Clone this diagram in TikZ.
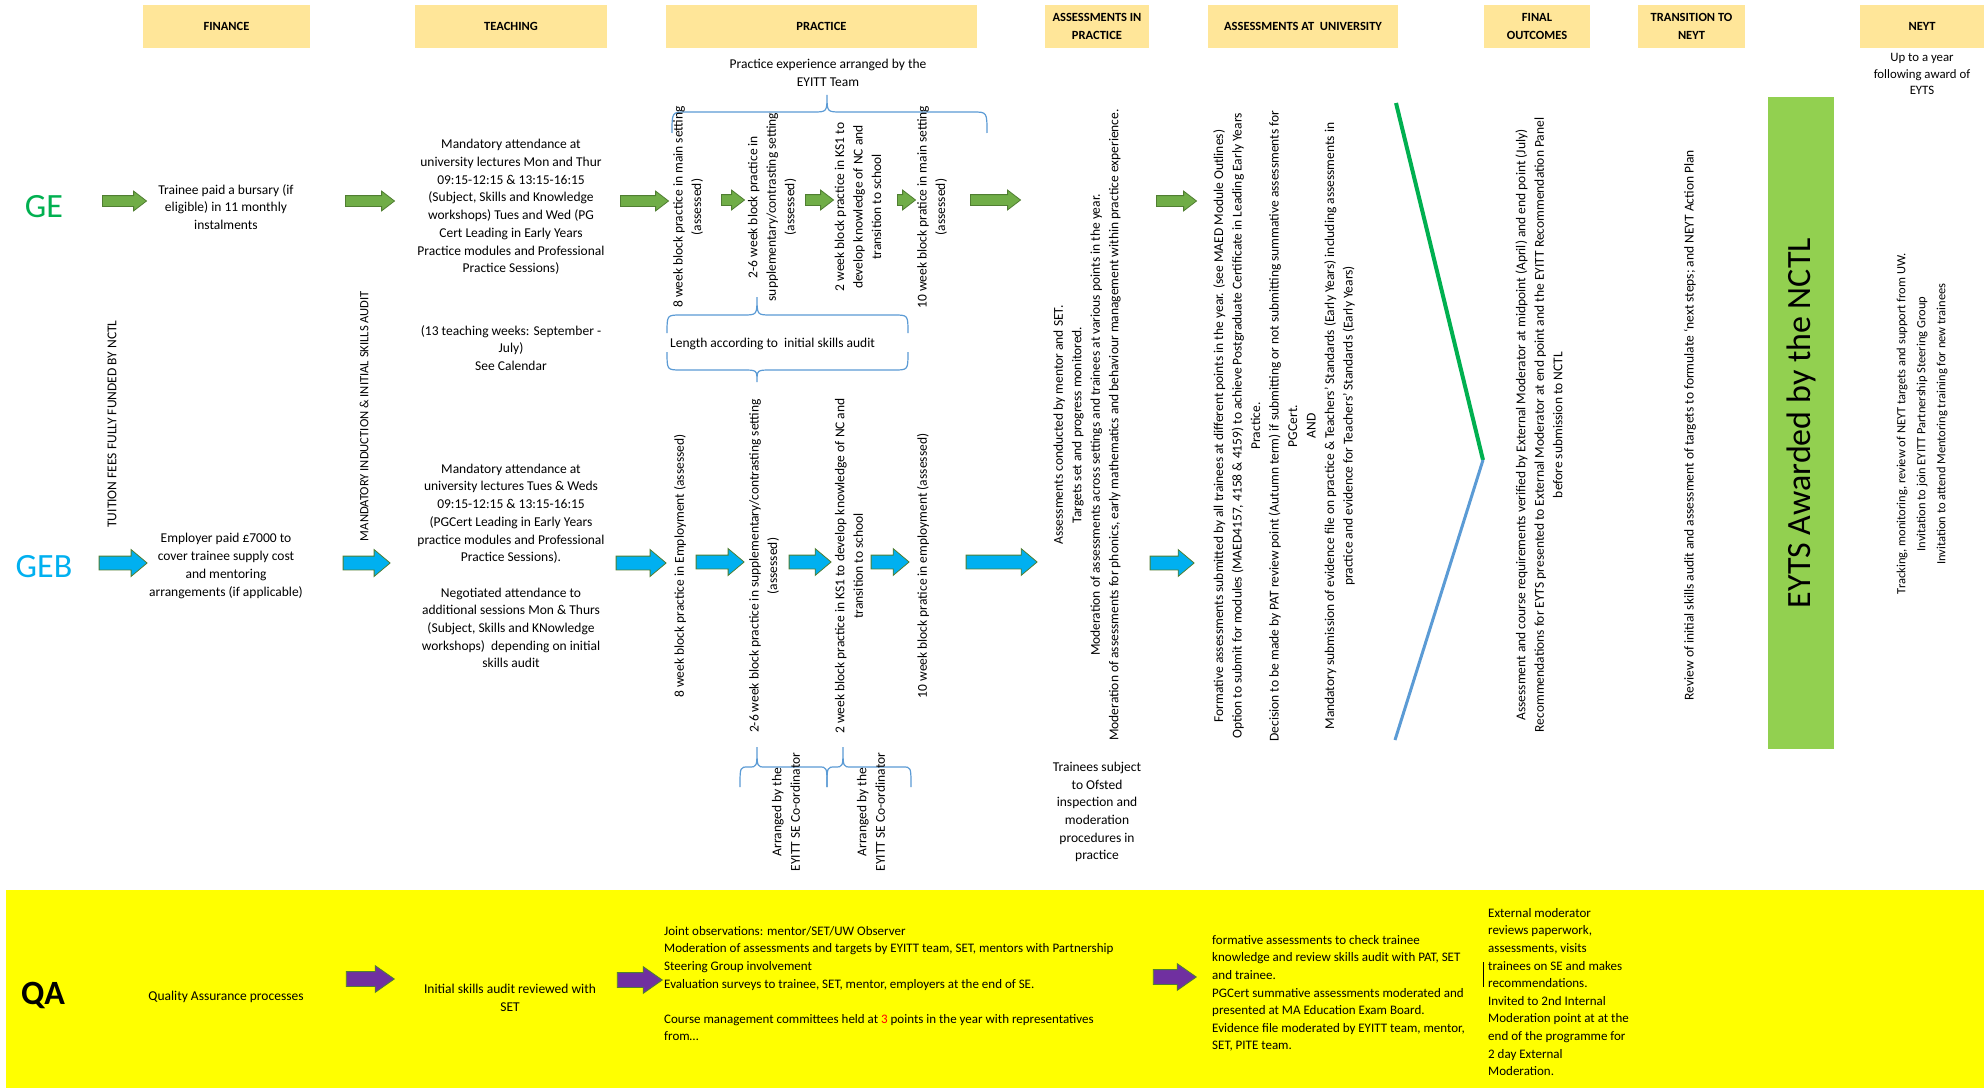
\documentclass[tikz,border=0pt]{standalone}
\usepackage{fontspec}
\setmainfont{Carlito}
\usetikzlibrary{shapes.arrows}

\definecolor{hdrfill}{HTML}{FFE699}
\definecolor{eytsgreen}{HTML}{92D050}
\definecolor{gecol}{HTML}{00B050}
\definecolor{gebcol}{HTML}{00B0F0}
\definecolor{qayellow}{HTML}{FFFF00}
\definecolor{arrgreen}{HTML}{70AD47}
\definecolor{arrblue}{HTML}{00B0F0}
\definecolor{arrpurple}{HTML}{7030A0}
\definecolor{arrowedge}{HTML}{507E32}
\definecolor{bracecol}{HTML}{5B9BD5}

% word style brace: x1, x2, tip x, end y, line y, tip y, corner
\newcommand{\wordbrace}[7]{%
  \draw[bracket] (#1,#4) .. controls (#1,#5) .. ({#1+#7},#5) -- ({#3-#7},#5)
    .. controls (#3,#5) .. (#3,#6) .. controls (#3,#5) .. ({#3+#7},#5)
    -- ({#2-#7},#5) .. controls (#2,#5) .. (#2,#4);}

\begin{document}
\begin{tikzpicture}[x=1pt,y=-1pt,
  every node/.style={inner sep=0pt},
  body/.style={align=center, font=\fontsize{13.5}{17.7}\selectfont},
  vtext/.style={rotate=90, align=center, font=\fontsize{13.5}{18.5}\selectfont},
  qatext/.style={anchor=north west, align=left, font=\fontsize{13}{17.6}\selectfont},
  hdr/.style={fill=hdrfill, minimum height=43pt, align=center,
    font=\bfseries\fontsize{12.5}{18}\selectfont},
  big/.style={font=\fontsize{34}{40}\selectfont},
  blockarrow/.style={single arrow, draw=arrowedge, line width=0.8pt,
    inner xsep=0pt, single arrow head indent=0pt},
  garrow/.style={blockarrow, fill=arrgreen, minimum height=#1, inner ysep=5pt,
    single arrow head extend=4.5pt, single arrow tip angle=75},
  barrow/.style={blockarrow, fill=arrblue, minimum height=#1, inner ysep=6.5pt,
    single arrow head extend=6.5pt, single arrow tip angle=80},
  parrow/.style={blockarrow, fill=arrpurple, minimum height=#1, inner ysep=7pt,
    single arrow head extend=6pt, single arrow tip angle=70},
  bracket/.style={draw=bracecol, line width=1.2pt}]

  \path[use as bounding box, fill=white] (0,0) rectangle (1984,1089);

  % column headers
  \node[hdr, minimum width=167pt] (hfin) at (226.5,26.5) {FINANCE};
  \node[hdr, minimum width=192pt] (hteach) at (511,26.5) {TEACHING};
  \node[hdr, minimum width=311pt] (hprac) at (821.5,26.5) {PRACTICE};
  \node[hdr, minimum width=104pt] (hasp) at (1097,26.5) {ASSESSMENTS IN\\PRACTICE};
  \node[hdr, minimum width=190pt] (hasu) at (1303,26.5) {ASSESSMENTS AT\ \ UNIVERSITY};
  \node[hdr, minimum width=106pt] (hfinal) at (1537,26.5) {FINAL\\OUTCOMES};
  \node[hdr, minimum width=107pt] (htrans) at (1691.5,26.5) {TRANSITION TO\\NEYT};
  \node[hdr, minimum width=124pt] (hneyt) at (1922,26.5) {NEYT};

  % routes
  \node[big, text=gecol] (ge) at (44,207) {GE};
  \node[big, text=gebcol] (geb) at (44,567) {GEB};

  % finance and teaching
  \node[body] (finge) at (226,207) {Trainee paid a bursary (if\\eligible) in 11 monthly\\instalments};
  \node[body] (fingeb) at (226,566) {Employer paid £7000 to\\cover trainee supply cost\\and mentoring\\arrangements (if applicable)};
  \node[vtext] (tuition) at (112,424) {TUITION FEES FULLY FUNDED BY NCTL};
  \node[vtext, font=\fontsize{12.6}{16}\selectfont] (induct) at (364,416) {MANDATORY INDUCTION \& INITIAL SKILLS AUDIT};
  \node[body] (teachge) at (511,207) {Mandatory attendance at\\university lectures Mon and Thur\\09:15-12:15 \& 13:15-16:15\\(Subject, Skills and Knowledge\\workshops) Tues and Wed (PG\\Cert Leading in Early Years\\Practice modules and Professional\\Practice Sessions)};
  \node[body] (teachcal) at (511,348) {(13 teaching weeks: September -\\July)\\See Calendar};
  \node[body] (teachgeb) at (511,566) {Mandatory attendance at\\university lectures Tues \& Weds\\09:15-12:15 \& 13:15-16:15\\(PGCert Leading in Early Years\\practice modules and Professional\\Practice Sessions).\\[17.7pt]Negotiated attendance to\\additional sessions Mon \& Thurs\\(Subject, Skills and KNowledge\\workshops)\ \ depending on initial\\skills audit};

  % practice
  \node[body] (practop) at (828,73) {Practice experience arranged by the\\EYITT Team};
  \wordbrace{672}{987}{827}{133}{112}{95}{14}
  \node[vtext] (pge1) at (688,207) {8 week block practice in main setting\\(assessed)};
  \node[vtext] (pge2) at (772,207) {2-6 week block practice in\\supplementary/contrasting setting\\(assessed)};
  \node[vtext] (pge3) at (858,207) {2 week block practice in KS1 to\\develop knowledge of NC and\\transition to school};
  \node[vtext] (pge4) at (932,207) {10 week block pratice in main setting\\(assessed)};
  \wordbrace{667}{908}{757}{333}{315}{297}{14}
  \node[body, anchor=west] (lenaudit) at (670,344) {Length according to\ \ initial skills audit};
  \wordbrace{667}{908}{757}{352}{370}{382}{14}
  \node[vtext] (pgeb1) at (680,566) {8 week block practice in Employment (assessed)};
  \node[vtext] (pgeb2) at (764,566) {2-6 week block practice in supplementary/contrasting setting\\(assessed)};
  \node[vtext] (pgeb3) at (849,566) {2 week block practice in KS1 to develop knowledge of NC and\\transition to school};
  \node[vtext] (pgeb4) at (923,566) {10 week block pratice in employment (assessed)};
  \wordbrace{740}{827}{757}{787}{767}{747}{8}
  \wordbrace{827}{911}{843}{787}{767}{747}{8}
  \node[vtext] (arr1) at (786,812) {Arranged by the\\EYITT SE Co-ordinator};
  \node[vtext] (arr2) at (871,812) {Arranged by the\\EYITT SE Co-ordinator};

  % assessments
  \node[vtext] (asp) at (1087,425) {Assessments conducted by mentor and SET.\\Targets set and progress monitored.\\Moderation of assessments across settings and trainees at various points in the year.\\Moderation of assessments for phonics, early mathematics and behaviour management within practice experience.};
  \node[body] (ofsted) at (1097,812) {Trainees subject\\to Ofsted\\inspection and\\moderation\\procedures in\\practice};
  \node[vtext] (asu) at (1284,426) {Formative assessments submitted by all trainees at different points in the year. (see MAED Module Outlines)\\Option to submit for modules (MAED4157, 4158 \& 4159) to achieve Postgraduate Certificate in Leading Early Years\\Practice.\\Decision to be made by PAT review point (Autumn term) if submitting or not submitting summative assessments for\\PGCert.\\AND\\Mandatory submission of evidence file on practice \& Teachers' Standards (Early Years) including assessments in\\practice and evidence for Teachers' Standards (Early Years)};

  % routes join
  \coordinate (vtop) at (1396,103);
  \coordinate (vtip) at (1483,460);
  \coordinate (vbot) at (1395,740);
  \draw[gecol, line width=4pt] (vtop) -- (vtip);
  \draw[bracecol, line width=3pt] (vtip) -- (vbot);

  % outcomes and after
  \node[vtext] (final) at (1539,425) {Assessment and course requirements verified by External Moderator at midpoint (April) and end point (July)\\Recommendations for EYTS presented to External Moderator at end point and the EYITT Recommendation Panel\\before submission to NCTL};
  \node[vtext] (trans) at (1690,425) {Review of initial skills audit and assessment of targets to formulate `next steps; and NEYT Action Plan};
  \node[big, fill=eytsgreen, rotate=90, minimum width=652pt, minimum height=66pt] (eyts) at (1801,423) {EYTS Awarded by the NCTL};
  \node[body, font=\fontsize{12.8}{16.5}\selectfont] (neyttop) at (1922,74) {Up to a year\\following award of\\EYTS};
  \node[vtext, font=\fontsize{12.5}{20}\selectfont] (neyt) at (1922,424) {Tracking, monitoring, review of NEYT targets and support from UW.\\Invitation to join EYITT Partnership Steering Group\\Invitation to attend Mentoring training for new trainees};

  % GE arrows
  \node[garrow=44pt] (ge1) at (121,201) {};
  \node[garrow=49pt] (ge2) at (366.5,201) {};
  \node[garrow=48pt] (ge3) at (641,201) {};
  \node[garrow=23pt] (ge4) at (729.5,200) {};
  \node[garrow=28pt] (ge5) at (816,200) {};
  \node[garrow=18pt] (ge6) at (903,200) {};
  \node[garrow=50pt] (ge7) at (992,200) {};
  \node[garrow=40pt] (ge8) at (1173,201) {};

  % GEB arrows
  \node[barrow=48pt] (geb1) at (119,563) {};
  \node[barrow=47pt] (geb2) at (362.5,563) {};
  \node[barrow=50pt] (geb3) at (637,563) {};
  \node[barrow=48pt] (geb4) at (716,562) {};
  \node[barrow=42pt] (geb5) at (806,562) {};
  \node[barrow=38pt] (geb6) at (886,562) {};
  \node[barrow=71pt] (geb7) at (997.5,562) {};
  \node[barrow=44pt] (geb8) at (1168,563) {};

  % quality assurance
  \fill[qayellow] (6,890) rectangle (1984,1088);
  \node[big, font=\bfseries\fontsize{34}{40}\selectfont] (qa) at (43,995) {QA};
  \node[body] (qaproc) at (226,997) {Quality Assurance processes};
  \node[parrow=48pt] (qa1) at (365,979) {};
  \node[body] (qaskills) at (510,998) {Initial skills audit reviewed with\\SET};
  \node[parrow=45pt] (qa2) at (634.5,980) {};
  \node[qatext] (qajoint) at (664,926) {Joint observations: mentor/SET/UW Observer\\Moderation of assessments and targets by EYITT team, SET, mentors with Partnership\\Steering Group involvement\\Evaluation surveys to trainee, SET, mentor, employers at the end of SE.\\[17.6pt]Course management committees held at \textcolor{red}{3} points in the year with representatives\\from…};
  \node[parrow=43pt] (qa3) at (1169.5,977) {};
  \node[qatext] (qaform) at (1212,935) {formative assessments to check trainee\\knowledge and review skills audit with PAT, SET\\and trainee.\\PGCert summative assessments moderated and\\presented at MA Education Exam Board.\\Evidence file moderated by EYITT team, mentor,\\SET, PITE team.};
  \coordinate (cur1) at (1483,962);
  \coordinate (cur2) at (1483,987);
  \draw[line width=0.8pt] (cur1) -- (cur2);
  \node[qatext] (qaext) at (1488,908) {External moderator\\reviews paperwork,\\assessments, visits\\trainees on SE and makes\\recommendations.\\Invited to 2nd Internal\\Moderation point at at the\\end of the programme for\\2 day External\\Moderation.};

\end{tikzpicture}
\end{document}
